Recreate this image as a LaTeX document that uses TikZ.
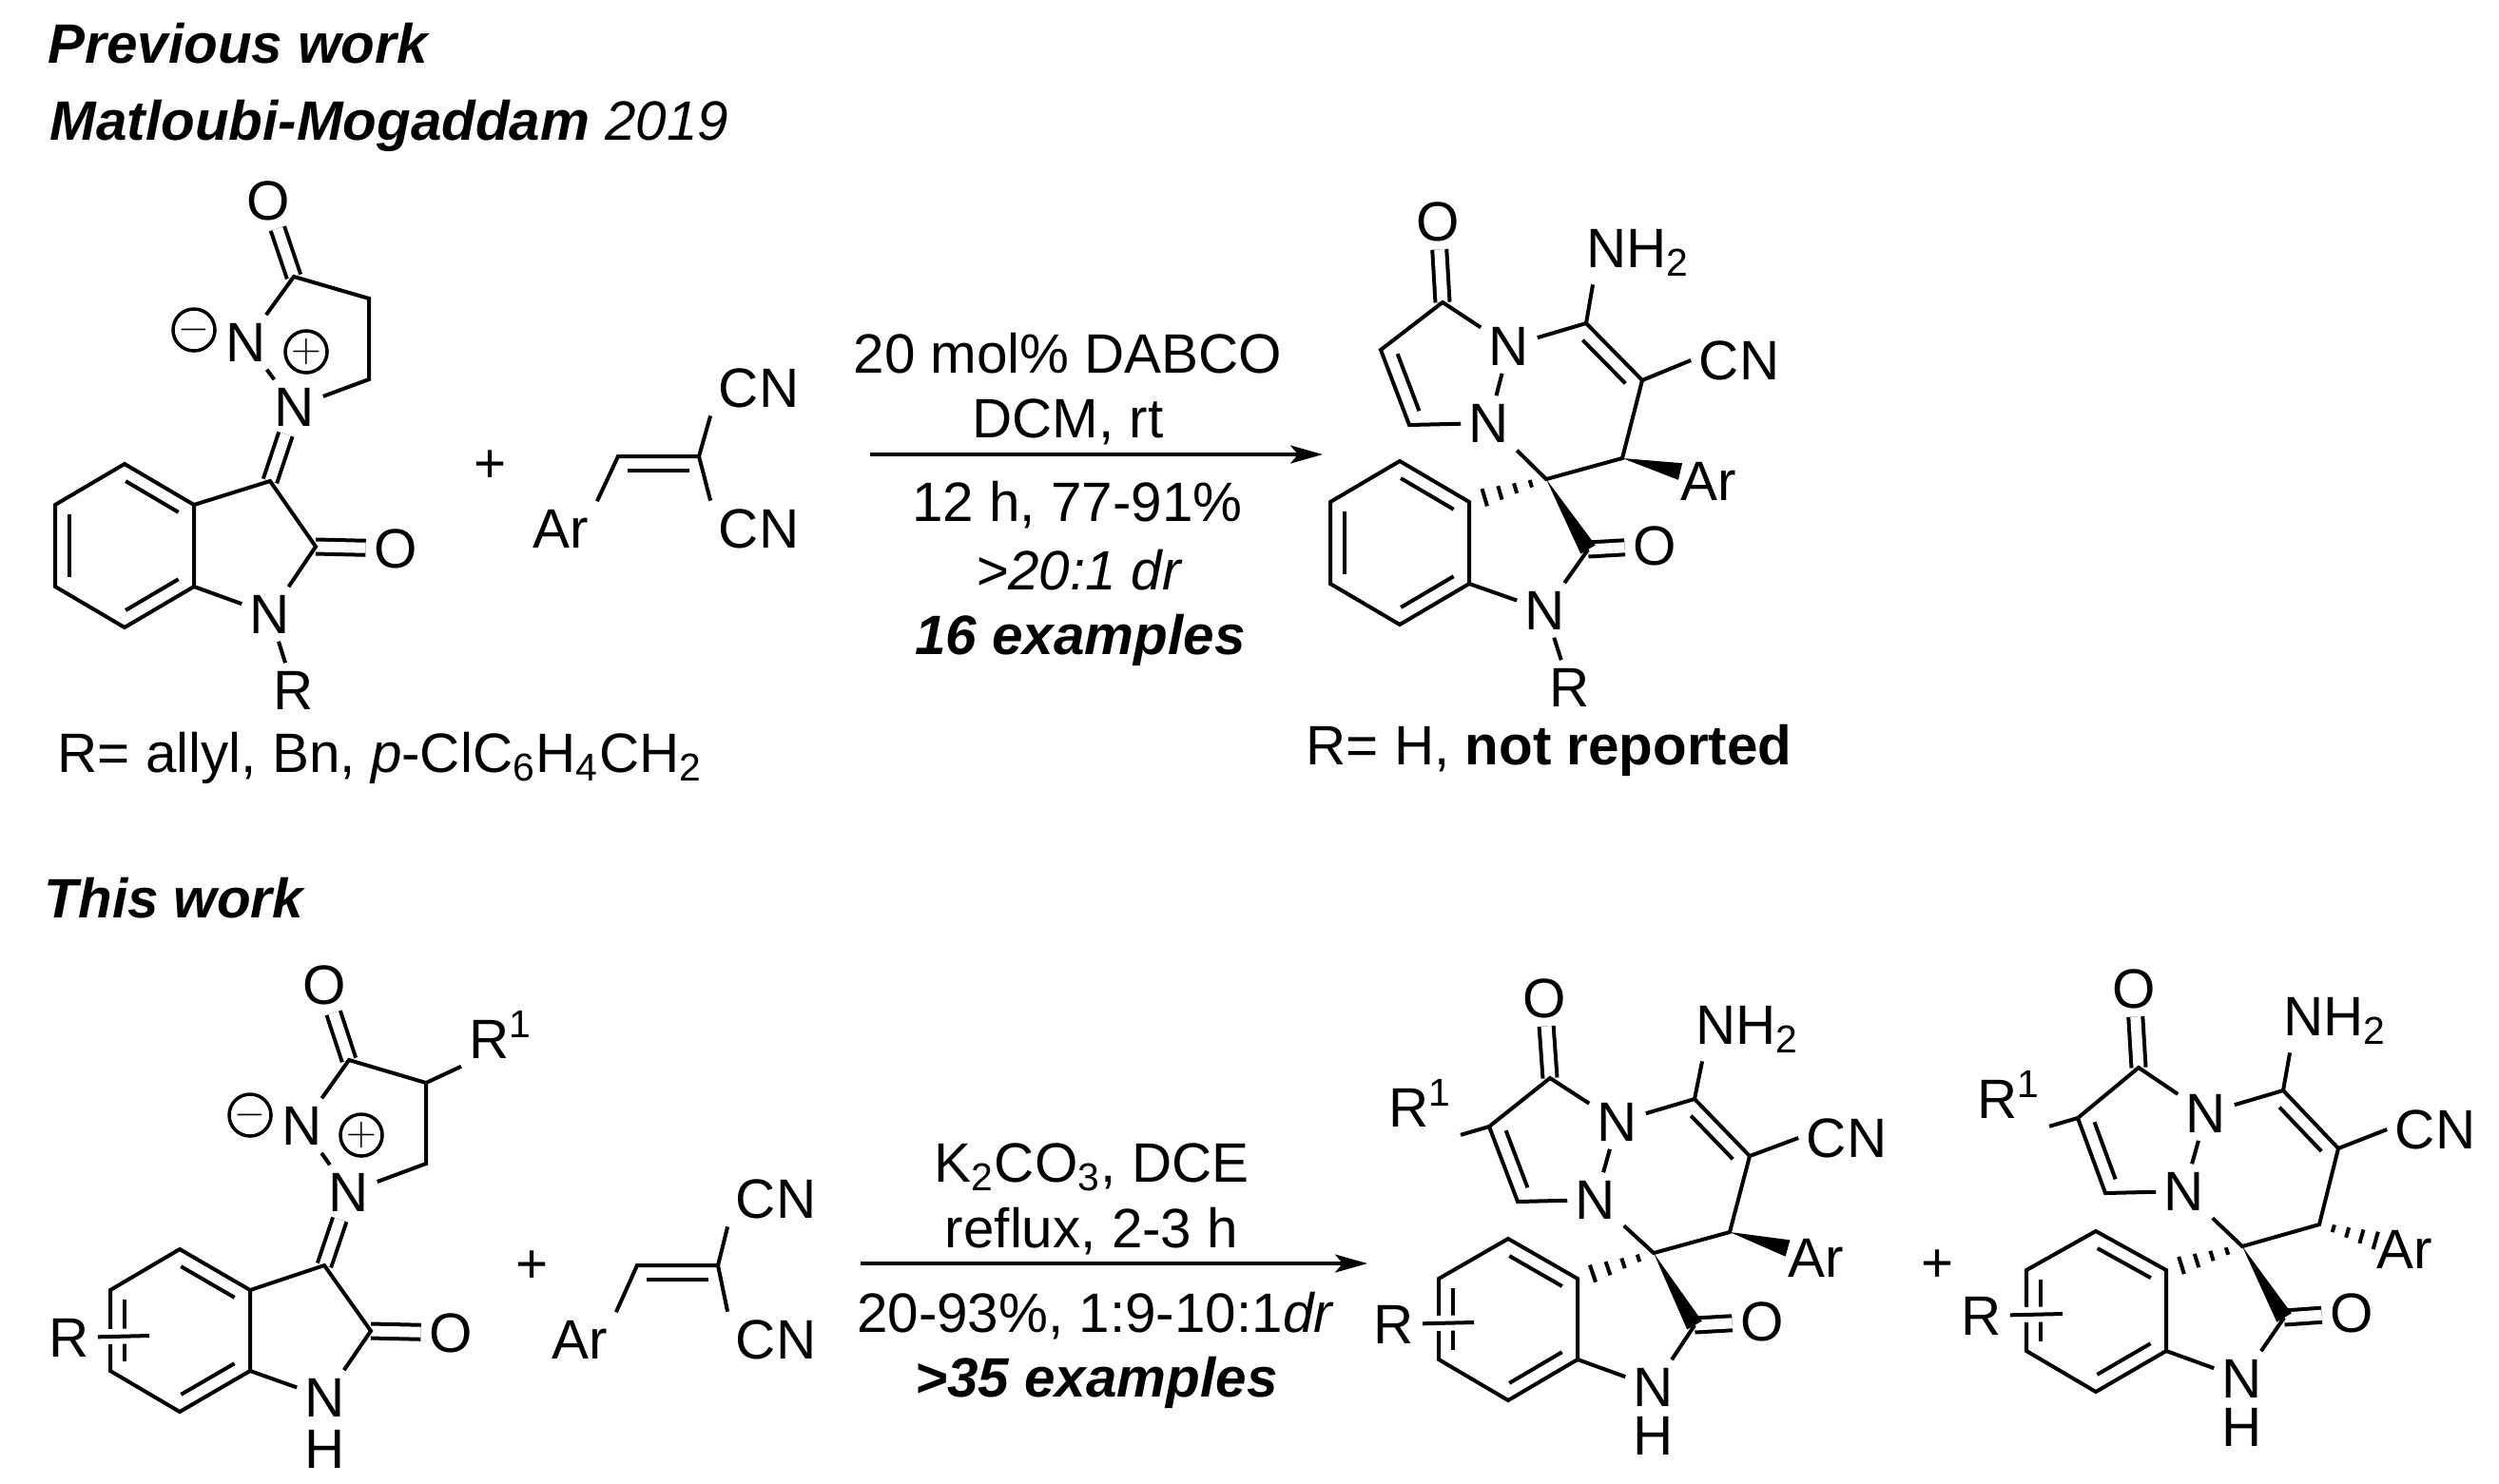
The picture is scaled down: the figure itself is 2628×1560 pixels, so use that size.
\documentclass[tikz,border=0pt]{standalone}
\usepackage{fontspec}
\setmainfont{Liberation Sans}
\usetikzlibrary{arrows.meta}
\usetikzlibrary{calc}
\newcommand{\ringbond}[2]{\draw[bond] ($(#1)!.12!(#2)!.15cm!90:(#2)$) -- ($(#2)!.12!(#1)!.15cm!-90:(#1)$);}
\newcommand{\wedgebond}[2]{\fill ($(#2)!.09cm!90:(#1)$) -- (#1) -- ($(#2)!.09cm!-90:(#1)$) -- cycle;}
\newcommand{\hashbond}[2]{\foreach \pos/\wid in {.2/.04,.4/.055,.6/.075,.8/.095}{\draw[bond] ($(#1)!\pos!(#2)!\wid cm!90:(#2)$) -- ($(#1)!\pos!(#2)!\wid cm!-90:(#2)$);}}
\begin{document}
\begin{tikzpicture}
[x=0.01cm,y=-0.01cm
,bond/.style={line width=0.04cm}
,dbl/.style={bond,double,double distance=0.11cm}
,thinarrow/.style={line width=0.032cm,arrows={-Stealth[length=0.34cm,width=0.19cm,inset=0.08cm]}}
,crossbond/.style={bond,preaction={draw,white,line width=0.16cm}}
,atom/.style={inner sep=0.08cm,font=\fontsize{16.6}{20}\selectfont}
,txt/.style={inner sep=0pt,font=\fontsize{16.6}{20}\selectfont}
,charge/.style={circle,draw,line width=0.035cm,minimum size=0.44cm,inner sep=0pt,font=\fontsize{11.6}{12}\selectfont}]
\useasboundingbox (0,0) rectangle (2628,1560);
\node[txt,anchor=west] (t1) at (50,46) {\textbf{\textit{Previous work}}};
\node[txt,anchor=west] (t2) at (52,132) {\textbf{\textit{Matloubi-Mogaddam}} \textit{2019}};
\node[txt,anchor=west] (t3) at (46,945) {\textbf{\textit{This work}}};

\node[atom] (a1) at (282,211) {O};
\node[atom] (a2) at (259,360) {N};
\node[atom] (a3) at (310,428) {N};
\node[atom] (a4) at (416,577) {O};
\node[atom] (a5) at (284,646) {N};
\node[atom] (a6) at (309,726) {R};
\node[atom] (a7) at (590,556) {Ar};
\node[atom] (a8) at (798,408) {CN};
\node[atom] (a9) at (798,556) {CN};
\node[charge] (a10) at (204,347) {$-$};
\node[charge] (a11) at (322,370) {$+$};
\node[txt] (a12) at (516,491) {+};
\node[txt,anchor=west] (a13) at (60,797) {R= allyl, Bn, \textit{p}-ClC\textsubscript{6}H\textsubscript{4}CH\textsubscript{2}};
\coordinate (ca1) at (309,291);
\coordinate (ca2) at (388,314);
\coordinate (ca3) at (388,399);
\coordinate (ca4) at (284,506);
\coordinate (ca5) at (204,531);
\coordinate (ca6) at (131,488);
\coordinate (ca7) at (58,531);
\coordinate (ca8) at (58,617);
\coordinate (ca9) at (131,660);
\coordinate (ca10) at (204,617);
\coordinate (ca11) at (332,575);
\coordinate (ca12) at (650,480);
\coordinate (ca13) at (735,480);
\draw[dbl] (ca1) -- (a1);
\draw[dbl] (ca4) -- (a3);
\draw[dbl] (ca11) -- (a4);
\draw[bond] (a2) -- (ca1) -- (ca2) -- (ca3) -- (a3);
\draw[bond] (a2) -- (a3);
\draw[bond] (ca5) -- (ca6) -- (ca7) -- (ca8) -- (ca9) -- (ca10) -- cycle;
\draw[bond] (ca5) -- (ca4) -- (ca11) -- (a5) -- (ca10);
\draw[bond] (a5) -- (a6);
\draw[bond] (a7.north east) -- (ca12) -- (ca13) -- (a8.south west);
\draw[bond] (ca13) -- (a9.north west);
\ringbond{ca5}{ca6}
\ringbond{ca7}{ca8}
\ringbond{ca9}{ca10}
\ringbond{ca13}{ca12}

\coordinate (m1) at (915,478);
\coordinate (m2) at (1391,478);
\draw[thinarrow] (m1) -- (m2);
\node[txt] (m3) at (1123,372) {20 mol\% DABCO};
\node[txt] (m4) at (1123,444) {DCM, rt};
\node[txt] (m5) at (1133,531) {12 h, 77-91\%};
\node[txt] (m6) at (1135,600) {\textit{>20:1 dr}};
\node[txt] (m7) at (1136,673) {\textbf{\textit{16 examples}}};

\node[atom] (b1) at (1512,233) {O};
\node[atom] (b2) at (1587,364) {N};
\node[atom] (b3) at (1566,445) {N};
\node[atom] (b4) at (1723,266) {NH\textsubscript{2}};
\node[atom] (b5) at (1829,379) {CN};
\node[atom] (b6) at (1797,506) {Ar};
\node[atom] (b7) at (1740,574) {O};
\node[atom] (b8) at (1625,642) {N};
\node[atom] (b9) at (1651,723) {R};
\node[txt] (b10) at (1629,789) {R= H, \textbf{not reported}};
\coordinate (cb1) at (1517,318);
\coordinate (cb2) at (1668,340);
\coordinate (cb3) at (1727,400);
\coordinate (cb4) at (1706,482);
\coordinate (cb5) at (1626,504);
\coordinate (cb6) at (1482,447);
\coordinate (cb7) at (1452,368);
\coordinate (cb8) at (1670,578);
\coordinate (cb9) at (1545,528);
\coordinate (cb10) at (1472,485);
\coordinate (cb11) at (1399,528);
\coordinate (cb12) at (1399,614);
\coordinate (cb13) at (1472,657);
\coordinate (cb14) at (1545,614);
\coordinate (cb15) at (1767,496);
\draw[dbl] (cb1) -- (b1);
\draw[dbl] (cb8) -- (b7);
\draw[bond] (b2) -- (cb1) -- (cb7) -- (cb6) -- (b3);
\draw[bond] (b2) -- (b3);
\draw[bond] (b2) -- (cb2) -- (cb3) -- (cb4) -- (cb5) -- (b3);
\draw[bond] ($(b4.south west)!.12!(b4.south east)$) -- (cb2);
\draw[bond] (cb3) -- (b5.west);
\draw[bond] (cb9) -- (cb10) -- (cb11) -- (cb12) -- (cb13) -- (cb14) -- cycle;
\draw[bond] (cb14) -- (b8) -- (cb8);
\draw[bond] (b8) -- (b9);
\ringbond{cb7}{cb6}
\ringbond{cb3}{cb2}
\ringbond{cb9}{cb10}
\ringbond{cb11}{cb12}
\ringbond{cb13}{cb14}
\wedgebond{cb4}{cb15}
\wedgebond{cb5}{cb8}
\hashbond{cb5}{cb9}

\node[atom] (d1) at (341,1036) {O};
\node[atom] (d2) at (318,1184) {N};
\node[atom] (d3) at (367,1254) {N};
\node[atom] (d4) at (527,1088) {R\textsuperscript{1}};
\node[atom] (d5) at (474,1402) {O};
\node[atom] (d6) at (342,1470) {N};
\node[atom] (d7) at (342,1524) {H};
\node[atom] (d8) at (73,1407) {R};
\node[atom] (d9) at (610,1409) {Ar};
\node[atom] (d10) at (816,1261) {CN};
\node[atom] (d11) at (816,1409) {CN};
\node[charge] (d12) at (263,1173) {$-$};
\node[charge] (d13) at (380,1194) {$+$};
\node[txt] (d14) at (560,1333) {+};
\coordinate (cd1) at (367,1115);
\coordinate (cd2) at (448,1139);
\coordinate (cd3) at (448,1224);
\coordinate (cd4) at (341,1331);
\coordinate (cd5) at (263,1357);
\coordinate (cd6) at (189,1314);
\coordinate (cd7) at (116,1357);
\coordinate (cd8) at (116,1442);
\coordinate (cd9) at (189,1485);
\coordinate (cd10) at (263,1442);
\coordinate (cd11) at (390,1400);
\coordinate (cd12) at (670,1331);
\coordinate (cd13) at (755,1331);
\coordinate (cd14) at (157,1405);
\draw[dbl] (cd1) -- (d1);
\draw[dbl] (cd4) -- (d3);
\draw[dbl] (cd11) -- (d5);
\draw[bond] (d2) -- (cd1) -- (cd2) -- (cd3) -- (d3);
\draw[bond] (d2) -- (d3);
\draw[bond] (cd2) -- (d4.south west);
\draw[bond] (cd5) -- (cd6) -- (cd7) -- (cd8) -- (cd9) -- (cd10) -- cycle;
\draw[bond] (cd5) -- (cd4) -- (cd11) -- (d6) -- (cd10);
\draw[bond] (d9.north east) -- (cd12) -- (cd13) -- (d10.south west);
\draw[bond] (cd13) -- (d11.north west);
\ringbond{cd5}{cd6}
\ringbond{cd7}{cd8}
\ringbond{cd9}{cd10}
\ringbond{cd13}{cd12}
\draw[crossbond] (d8) -- (cd14);

\coordinate (m8) at (905,1329);
\coordinate (m9) at (1438,1329);
\draw[thinarrow] (m8) -- (m9);
\node[txt] (m10) at (1148,1228) {K\textsubscript{2}CO\textsubscript{3}, DCE};
\node[txt] (m11) at (1148,1295) {reflux, 2-3 h};
\node[txt] (m12) at (1152,1384) {20-93\%, 1:9-10:1\textit{dr}};
\node[txt] (m13) at (1153,1454) {\textbf{\textit{>35 examples}}};

\node[atom] (e1) at (1624,1050) {O};
\node[atom] (e2) at (1701,1180) {N};
\node[atom] (e3) at (1678,1262) {N};
\node[atom] (e4) at (1838,1083) {NH\textsubscript{2}};
\node[atom] (e5) at (1942,1197) {CN};
\node[atom] (e6) at (1910,1323) {Ar};
\node[atom] (e7) at (1853,1390) {O};
\node[atom] (e8) at (1739,1459) {N};
\node[atom] (e9) at (1739,1510) {H};
\node[atom] (e10) at (1494,1160) {R\textsuperscript{1}};
\node[atom] (e11) at (1466,1393) {R};
\coordinate (ce1) at (1630,1134);
\coordinate (ce2) at (1566,1185);
\coordinate (ce3) at (1596,1264);
\coordinate (ce4) at (1782,1156);
\coordinate (ce5) at (1840,1216);
\coordinate (ce6) at (1819,1296);
\coordinate (ce7) at (1739,1318);
\coordinate (ce8) at (1782,1394);
\coordinate (ce9) at (1659,1345);
\coordinate (ce10) at (1586,1303);
\coordinate (ce11) at (1513,1345);
\coordinate (ce12) at (1513,1430);
\coordinate (ce13) at (1586,1473);
\coordinate (ce14) at (1659,1430);
\coordinate (ce15) at (1880,1313);
\coordinate (ce16) at (1550,1391);
\draw[dbl] (ce1) -- (e1);
\draw[dbl] (ce8) -- (e7);
\draw[bond] (e2) -- (ce1) -- (ce2) -- (ce3) -- (e3);
\draw[bond] (e2) -- (e3);
\draw[bond] (e2) -- (ce4) -- (ce5) -- (ce6) -- (ce7) -- (e3);
\draw[bond] ($(e4.south west)!.12!(e4.south east)$) -- (ce4);
\draw[bond] (ce5) -- (e5.west);
\draw[bond] (ce2) -- (e10.south east);
\draw[bond] (ce9) -- (ce10) -- (ce11) -- (ce12) -- (ce13) -- (ce14) -- cycle;
\draw[bond] (ce14) -- (e8) -- (ce8);
\ringbond{ce2}{ce3}
\ringbond{ce5}{ce4}
\ringbond{ce9}{ce10}
\ringbond{ce11}{ce12}
\ringbond{ce13}{ce14}
\draw[crossbond] (e11) -- (ce16);
\wedgebond{ce6}{ce15}
\wedgebond{ce7}{ce8}
\hashbond{ce7}{ce9}

\node[txt] (f1) at (2038,1332) {+};
\node[atom] (f2) at (2244,1040) {O};
\node[atom] (f3) at (2320,1171) {N};
\node[atom] (f4) at (2297,1253) {N};
\node[atom] (f5) at (2456,1074) {NH\textsubscript{2}};
\node[atom] (f6) at (2561,1188) {CN};
\node[atom] (f7) at (2529,1314) {Ar};
\node[atom] (f8) at (2473,1381) {O};
\node[atom] (f9) at (2358,1450) {N};
\node[atom] (f10) at (2358,1501) {H};
\node[atom] (f11) at (2113,1151) {R\textsuperscript{1}};
\node[atom] (f12) at (2084,1384) {R};
\coordinate (cf1) at (2249,1123);
\coordinate (cf2) at (2185,1176);
\coordinate (cf3) at (2214,1255);
\coordinate (cf4) at (2401,1147);
\coordinate (cf5) at (2459,1208);
\coordinate (cf6) at (2439,1288);
\coordinate (cf7) at (2358,1311);
\coordinate (cf8) at (2402,1386);
\coordinate (cf9) at (2278,1336);
\coordinate (cf10) at (2204,1295);
\coordinate (cf11) at (2131,1336);
\coordinate (cf12) at (2131,1421);
\coordinate (cf13) at (2204,1464);
\coordinate (cf14) at (2278,1421);
\coordinate (cf15) at (2513,1309);
\coordinate (cf16) at (2169,1382);
\draw[dbl] (cf1) -- (f2);
\draw[dbl] (cf8) -- (f8);
\draw[bond] (f3) -- (cf1) -- (cf2) -- (cf3) -- (f4);
\draw[bond] (f3) -- (f4);
\draw[bond] (f3) -- (cf4) -- (cf5) -- (cf6) -- (cf7) -- (f4);
\draw[bond] ($(f5.south west)!.12!(f5.south east)$) -- (cf4);
\draw[bond] (cf5) -- (f6.west);
\draw[bond] (cf2) -- (f11.south east);
\draw[bond] (cf9) -- (cf10) -- (cf11) -- (cf12) -- (cf13) -- (cf14) -- cycle;
\draw[bond] (cf14) -- (f9) -- (cf8);
\ringbond{cf2}{cf3}
\ringbond{cf5}{cf4}
\ringbond{cf9}{cf10}
\ringbond{cf11}{cf12}
\ringbond{cf13}{cf14}
\draw[crossbond] (f12) -- (cf16);
\hashbond{cf6}{cf15}
\wedgebond{cf7}{cf8}
\hashbond{cf7}{cf9}
\end{tikzpicture}
\end{document}
